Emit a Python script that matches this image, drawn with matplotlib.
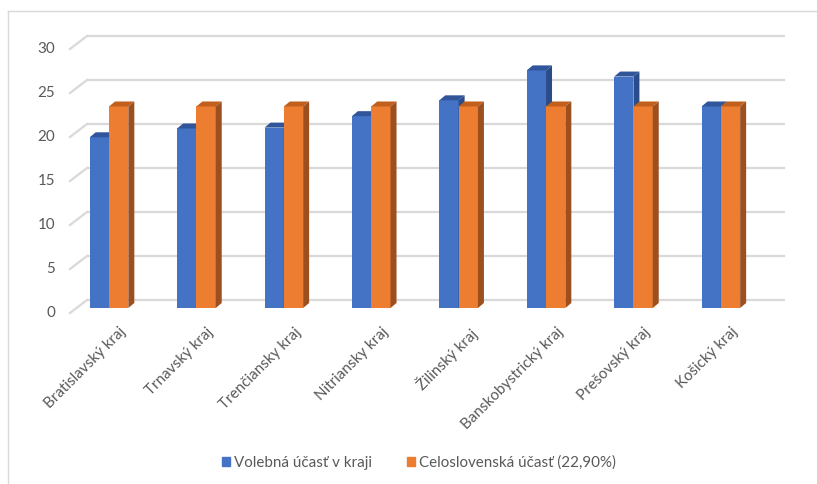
import numpy as np
import matplotlib
matplotlib.use('Agg')
import matplotlib.pyplot as plt
from matplotlib.patches import Patch
from matplotlib.lines import Line2D

plt.rcParams['font.family'] = ['Lato', 'DejaVu Sans']

regions = ['Bratislavský kraj', 'Trnavský kraj', 'Trenčiansky kraj', 'Nitriansky kraj',
           'Žilinský kraj', 'Banskobystrický kraj', 'Prešovský kraj', 'Košický kraj']
turnout = [19.4, 20.4, 20.5, 21.8, 23.6, 27.0, 26.3, 22.9]
national = [22.9] * 8
yticks = [0, 5, 10, 15, 20, 25, 30]
labels = ['Volebná účasť v kraji', 'Celoslovenská účasť (22,90%)']

W, H = 817, 484
fig = plt.figure(figsize=(W / 100, H / 100), dpi=100)

# bar plane in pixels
L, R, B, T = 76.5, 774.5, 308, 44
ax = fig.add_axes([L / W, 1 - B / H, (R - L) / W, (B - T) / H])
xmin, xmax = -0.372, 7.614
ax.set_xlim(xmin, xmax)
ax.set_ylim(0, 30)
ax.axis('off')

px_x = (R - L) / (xmax - xmin)
px_y = (B - T) / 30.0

grid_c = '#d9d9d9'
text_c = '#595959'
fs = 10.9

# back wall / front floor offsets
wx, wy = 10.5 / px_x, 8 / px_y
fx, fy = -6.5 / px_x, -5 / px_y
for v in yticks:
    ax.plot([xmin + wx, xmax + wx], [v + wy, v + wy], color=grid_c, lw=1.6,
            clip_on=False, zorder=0, solid_capstyle='butt')
    ax.plot([xmin + fx, xmin + wx], [v + fy, v + wy], color=grid_c, lw=1.6,
            clip_on=False, zorder=0)
    ax.text(xmin + fx - 15 / px_x, v + fy, str(v), ha='right', va='center',
            color=text_c, fontsize=fs)

bw = 19.3 / px_x
dx, dy = 6 / px_x, 5 / px_y

series = [
    (turnout, -bw / 2, '#4472c4', '#30559a', '#2b4c8a', 2),
    (national, bw / 2, '#ed7d31', '#c0601c', '#9c4f1f', 3),
]
x = np.arange(len(regions))
for vals, off, front, top, side, z in series:
    ax.bar(x + off, vals, width=bw, color=front, zorder=z, linewidth=0)
    for xi, h in zip(x + off, vals):
        x0, x1 = xi - bw / 2, xi + bw / 2
        ax.fill([x0, x1, x1 + dx, x0 + dx], [h, h, h + dy, h + dy],
                color=top, zorder=z, lw=0, clip_on=False)
        ax.fill([x1, x1 + dx, x1 + dx, x1], [0, dy, h + dy, h],
                color=side, zorder=z, lw=0, clip_on=False)

for i, name in enumerate(regions):
    ax.text(i + 10 / px_x, -17 / px_y, name, rotation=45, rotation_mode='anchor',
            ha='right', va='top', color=text_c, fontsize=fs)

handles = [Patch(color='#4472c4'), Patch(color='#ed7d31')]
fig.legend(handles, labels, loc='center', bbox_to_anchor=(419 / W, 1 - 463 / H),
           ncol=2, frameon=False, fontsize=fs, labelcolor=text_c,
           handlelength=0.55, handleheight=0.55, handletextpad=0.25, columnspacing=2.3)

# chart frame
fig.add_artist(Line2D([8 / W, 1], [1 - 11 / H, 1 - 11 / H], color=grid_c, lw=1))
fig.add_artist(Line2D([8 / W, 8 / W], [0, 1 - 11 / H], color=grid_c, lw=1))

plt.savefig('out.png', dpi=100)
